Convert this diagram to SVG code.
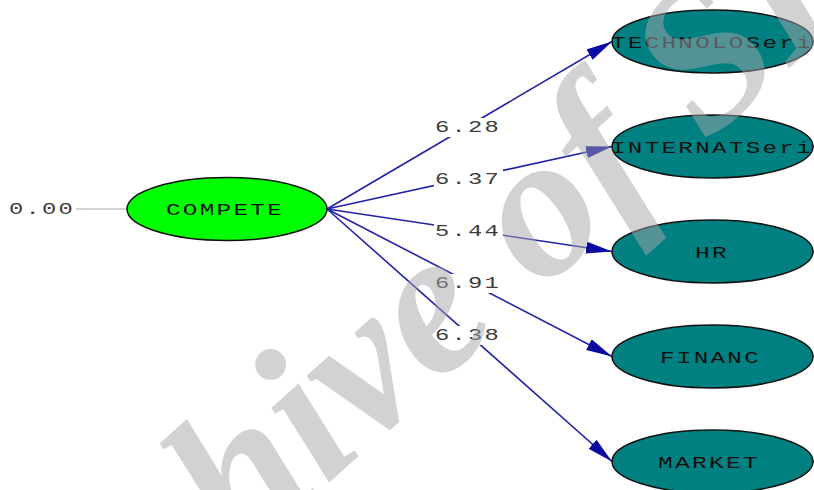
<svg xmlns="http://www.w3.org/2000/svg" width="814" height="490" viewBox="0 0 814 490">
<style>
.lat{fill:#00ff00;stroke:#111;stroke-width:1.5}
.obs{fill:#008080;stroke:#111;stroke-width:1.5}
.nt{font-family:"Liberation Mono","Courier New",monospace;font-size:16px;letter-spacing:1.5px;fill:#101010}
.lb{font-family:"Liberation Mono","Courier New",monospace;font-size:16px;letter-spacing:1.5px;fill:#3c3c3c}
.path{stroke:#2323a6;stroke-width:1.6;fill:none}
.bg{fill:#ffffff}
.wm{font-family:"Liberation Serif","Times New Roman",serif;font-weight:bold;font-style:italic;font-size:205px;fill:#a5a5a9;fill-opacity:0.5}
</style>
<defs>
<marker id="ah" markerUnits="userSpaceOnUse" markerWidth="26" markerHeight="12" refX="26" refY="6" orient="auto">
<path d="M0,0 L26,6 L0,12 z" fill="#0a0aa0"/>
</marker>
</defs>
<rect width="814" height="490" fill="#ffffff"/>
<g id="connectors">
<line x1="76" y1="209" x2="127" y2="209" stroke="#a8a8a8" stroke-width="1.2"/>
<line class="path" x1="327" y1="209" x2="612" y2="41.5" marker-end="url(#ah)"/>
<line class="path" x1="327" y1="209" x2="612" y2="146.5" marker-end="url(#ah)"/>
<line class="path" x1="327" y1="209" x2="612" y2="251.5" marker-end="url(#ah)"/>
<line class="path" x1="327" y1="209" x2="612" y2="356.5" marker-end="url(#ah)"/>
<line class="path" x1="327" y1="209" x2="612" y2="461.5" marker-end="url(#ah)"/>
<line class="path" x1="812" y1="41.5" x2="814" y2="41.5"/>
<line class="path" x1="812" y1="146.5" x2="814" y2="146.5"/>
<line class="path" x1="812" y1="251.5" x2="814" y2="251.5"/>
<line class="path" x1="812" y1="356.5" x2="814" y2="356.5"/>
<line class="path" x1="812" y1="461.5" x2="814" y2="461.5"/>
<rect class="bg" x="434" y="118" width="69" height="19"/>
<rect class="bg" x="434" y="170" width="69" height="19"/>
<rect class="bg" x="434" y="222" width="69" height="19"/>
<rect class="bg" x="434" y="274" width="69" height="19"/>
<rect class="bg" x="434" y="326" width="69" height="19"/>
<text class="lb" x="435" y="132" textLength="66" lengthAdjust="spacingAndGlyphs">6.28</text>
<text class="lb" x="435" y="184" textLength="66" lengthAdjust="spacingAndGlyphs">6.37</text>
<text class="lb" x="435" y="236" textLength="66" lengthAdjust="spacingAndGlyphs">5.44</text>
<text class="lb" x="435" y="288" textLength="66" lengthAdjust="spacingAndGlyphs">6.91</text>
<text class="lb" x="435" y="340" textLength="66" lengthAdjust="spacingAndGlyphs">6.38</text>
<text class="lb" x="9" y="214" textLength="66" lengthAdjust="spacingAndGlyphs">0.00</text>
</g>
<g id="COMPETE">
<ellipse class="lat" cx="227" cy="209" rx="100" ry="31.5"/>
<text class="nt" x="166" y="215" textLength="118" lengthAdjust="spacingAndGlyphs">COMPETE</text>
</g>
<g id="TECHNOLOSeri">
<ellipse class="obs" cx="712.5" cy="41.5" rx="100.5" ry="31.5"/>
<text class="nt" x="611" y="48" textLength="202" lengthAdjust="spacingAndGlyphs">TECHNOLOSeri</text>
</g>
<g id="INTERNATSeri">
<ellipse class="obs" cx="712.5" cy="146.5" rx="100.5" ry="31.5"/>
<text class="nt" x="611" y="153" textLength="202" lengthAdjust="spacingAndGlyphs">INTERNATSeri</text>
</g>
<g id="HR">
<ellipse class="obs" cx="712.5" cy="251.5" rx="100.5" ry="31.5"/>
<text class="nt" x="695" y="258" textLength="34" lengthAdjust="spacingAndGlyphs">HR</text>
</g>
<g id="FINANC">
<ellipse class="obs" cx="712.5" cy="356.5" rx="100.5" ry="31.5"/>
<text class="nt" x="660" y="363" textLength="101" lengthAdjust="spacingAndGlyphs">FINANC</text>
</g>
<g id="MARKET">
<ellipse class="obs" cx="712.5" cy="461.5" rx="100.5" ry="31.5"/>
<text class="nt" x="658" y="468" textLength="102" lengthAdjust="spacingAndGlyphs">MARKET</text>
</g>
<g id="watermark">
<text class="wm" transform="translate(12,768) rotate(-42)">Archive of SID</text>
</g>
</svg>
